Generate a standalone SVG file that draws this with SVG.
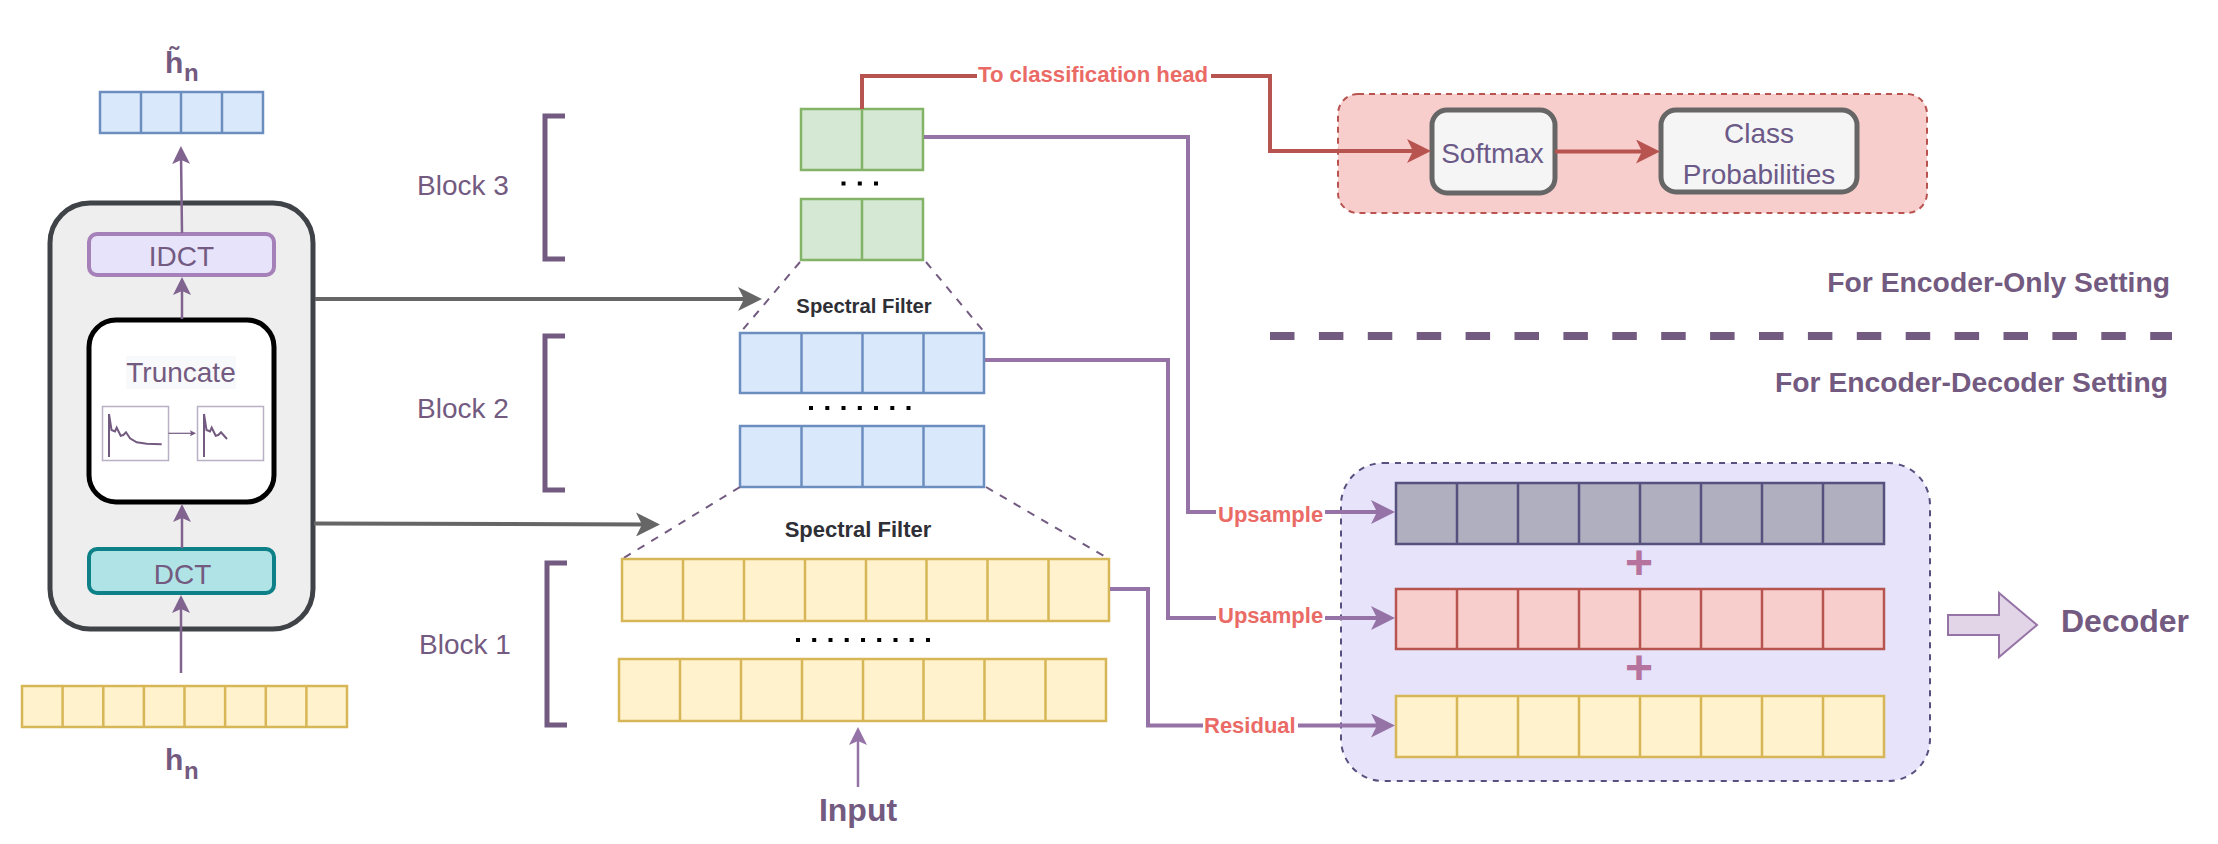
<svg xmlns="http://www.w3.org/2000/svg" width="2218" height="844" viewBox="0 0 2218 844">
<style>
text{font-family:"Liberation Sans",Arial,sans-serif;fill:#735a80}
.m{text-anchor:middle}
.e{text-anchor:end}
.b{font-weight:bold}
.f28{font-size:28px}
.lab{font-size:22px;font-weight:bold;fill:#ea6b66}
.sf{font-weight:bold;fill:#2f2f36;text-anchor:middle}
.plus{font-size:48px;font-weight:bold;fill:#b5739d;text-anchor:middle}
.set{font-size:28.300px;font-weight:bold;text-anchor:end}
.cl{font-size:28px;text-anchor:middle;fill:#6b5a88}
.y{fill:#fff2cc;stroke:#d6b656;stroke-width:2.5}
.bl{fill:#dae8fc;stroke:#6c8ebf;stroke-width:2.5}
.g{fill:#d5e8d4;stroke:#82b366;stroke-width:2.5}
.r{fill:#f8cecc;stroke:#b85450;stroke-width:2.5}
.d{fill:#b0afbf;stroke:#56517e;stroke-width:2.5}
.c{fill:none;stroke-linejoin:miter}
.pur{stroke:#9673a6;stroke-width:4}
.red{stroke:#b85450;stroke-width:4}
.gry{stroke:#666666;stroke-width:4}
.thin{stroke:#80638f;stroke-width:2.5}
.br{fill:none;stroke:#735a80;stroke-width:5}
.dash{fill:none;stroke:#735a80;stroke-width:2;stroke-dasharray:8 8}
.dot{fill:#000}
.plot{fill:#fff;stroke:#b8b0c4;stroke-width:1.5}
.curve{fill:none;stroke:#735a80;stroke-width:2}
.mainbox{stroke-width:4}
</style>
<defs>
<marker id="aPur" markerUnits="userSpaceOnUse" markerWidth="24" markerHeight="24" viewBox="0 0 24 24" refX="14" refY="12" orient="auto"><path d="M0 0L24 12L0 24L6 12Z" fill="#9673a6"/></marker>
<marker id="aRed" markerUnits="userSpaceOnUse" markerWidth="24" markerHeight="24" viewBox="0 0 24 24" refX="14" refY="12" orient="auto"><path d="M0 0L24 12L0 24L6 12Z" fill="#b85450"/></marker>
<marker id="aGry" markerUnits="userSpaceOnUse" markerWidth="24" markerHeight="24" viewBox="0 0 24 24" refX="14" refY="12" orient="auto"><path d="M0 0L24 12L0 24L6 12Z" fill="#666666"/></marker>
<marker id="aThin" markerUnits="userSpaceOnUse" markerWidth="18" markerHeight="18" viewBox="0 0 18 18" refX="10" refY="9" orient="auto"><path d="M0 0L18 9L0 18L4 9Z" fill="#80638f"/></marker>
<marker id="aIn" markerUnits="userSpaceOnUse" markerWidth="18" markerHeight="18" viewBox="0 0 18 18" refX="10" refY="9" orient="auto"><path d="M0 0L18 9L0 18L4 9Z" fill="#9673a6"/></marker>
<marker id="aTiny" markerUnits="userSpaceOnUse" markerWidth="6" markerHeight="6" viewBox="0 0 6 6" refX="4" refY="3" orient="auto"><path d="M0 0L6 3L0 6L1 3Z" fill="#735a80"/></marker>
</defs>

<g id="group-encoder-only"><rect x="1338" y="94" width="589" height="119" rx="20" fill="#f8cecc" stroke="#b85450" stroke-width="2" stroke-dasharray="6 5"/></g>
<g id="group-encoder-decoder"><rect x="1341" y="463" width="589" height="318" rx="42" fill="#e6e3fa" stroke="#56517e" stroke-width="2" stroke-dasharray="6 6"/></g>

<g id="dct-truncate-module">
<rect x="50" y="203" width="263" height="426" rx="40" fill="#eeeeee" stroke="#3f4347" stroke-width="5"/>
</g>
<g id="node-idct"><rect x="89" y="234" width="185" height="41" rx="8" fill="#e6e3fa" stroke="#a680b8" class="mainbox"/><text class="m f28" x="181.500" y="266">IDCT</text></g>
<g id="node-truncate">
<rect x="89" y="320" width="185" height="182" rx="27" fill="#fff" stroke="#000" stroke-width="5"/>
<rect x="126" y="356" width="110" height="33" fill="#f8f9fa"/>
<text class="m f28" x="181" y="382">Truncate</text>
<rect class="plot" x="102.500" y="406.500" width="66" height="54"/>
<rect class="plot" x="197.500" y="406.500" width="66" height="54"/>
<path class="curve" d="M109 414V457M109 414L111.500 430L115 431.500L116.700 427.700L120.700 435.700L123.300 435L126 432.300L130 438.300L136.700 442.300L146.700 443.700L161.700 444.300"/>
<path class="curve" d="M204 414V457M204 414L206.500 430L210 431.500L211.700 427.700L215.700 435.700L218.300 435L221 432.300L227 439"/>
<path fill="none" stroke="#735a80" stroke-width="1.200" d="M168.500 433.300H194" marker-end="url(#aTiny)"/>
</g>
<g id="node-dct"><rect x="89" y="549" width="185" height="44" rx="8" fill="#b0e3e6" stroke="#0e8088" class="mainbox"/><text class="m f28" x="182.500" y="584">DCT</text></g>

<g id="vector-h-tilde">
<rect class="bl" x="100" y="92" width="163" height="41"/>
<path class="bl" d="M141 92V133M181 92V133M222 92V133"/>
<text class="b" x="165" y="73" font-size="30">h&#771;<tspan x="184" y="81" font-size="24">n</tspan></text>
</g>
<g id="vector-h">
<rect class="y" x="22" y="686" width="325" height="41"/>
<path class="y" d="M62.600 686V727M103.300 686V727M143.900 686V727M184.500 686V727M225.100 686V727M265.800 686V727M306.400 686V727"/>
<text class="b" x="165" y="770" font-size="30">h<tspan x="184" y="779" font-size="24">n</tspan></text>
</g>

<g id="block-3-label"><path class="br" d="M565 116H545V259H565"/><text class="f28" x="417" y="195">Block 3</text></g>
<g id="block-2-label"><path class="br" d="M565 336H545V490H565"/><text class="f28" x="417" y="418">Block 2</text></g>
<g id="block-1-label"><path class="br" d="M567 563H547V725H567"/><text class="f28" x="419" y="654">Block 1</text></g>

<g id="block-3-top"><rect class="g" x="801" y="109" width="122" height="61"/><path class="g" d="M862 109V170"/></g>
<g id="block-3-dots" class="dot"><rect x="841.500" y="181.500" width="4" height="4"/><rect x="857.800" y="181.500" width="4" height="4"/><rect x="874" y="181.500" width="4" height="4"/></g>
<g id="block-3-bottom"><rect class="g" x="801" y="199" width="122" height="61"/><path class="g" d="M862 199V260"/></g>
<g id="spectral-filter-upper"><path class="dash" d="M800 262L740 333M926 262L985 333"/><text class="sf" x="864" y="313" font-size="20.300">Spectral Filter</text></g>
<g id="block-2-top"><rect class="bl" x="740" y="333" width="244" height="60"/><path class="bl" d="M801.500 333V393M862.500 333V393M923.500 333V393"/></g>
<g id="block-2-dots" class="dot"><rect x="809" y="406" width="4" height="4"/><rect x="825.300" y="406" width="4" height="4"/><rect x="841.500" y="406" width="4" height="4"/><rect x="857.800" y="406" width="4" height="4"/><rect x="874" y="406" width="4" height="4"/><rect x="890.300" y="406" width="4" height="4"/><rect x="906.500" y="406" width="4" height="4"/></g>
<g id="block-2-bottom"><rect class="bl" x="740" y="426" width="244" height="61"/><path class="bl" d="M801.500 426V487M862.500 426V487M923.500 426V487"/></g>
<g id="spectral-filter-lower"><path class="dash" d="M740 487L622 559M986 487L1109 559"/><text class="sf" x="858" y="537" font-size="22">Spectral Filter</text></g>
<g id="block-1-top"><rect class="y" x="622" y="559" width="487" height="62"/><path class="y" d="M683 559V621M744 559V621M805 559V621M866 559V621M926.500 559V621M987.500 559V621M1048.500 559V621"/></g>
<g id="block-1-dots" class="dot"><rect x="796" y="638" width="4" height="4"/><rect x="812.200" y="638" width="4" height="4"/><rect x="828.500" y="638" width="4" height="4"/><rect x="844.700" y="638" width="4" height="4"/><rect x="861" y="638" width="4" height="4"/><rect x="877.200" y="638" width="4" height="4"/><rect x="893.500" y="638" width="4" height="4"/><rect x="909.700" y="638" width="4" height="4"/><rect x="926" y="638" width="4" height="4"/></g>
<g id="block-1-bottom"><rect class="y" x="619" y="659" width="487" height="62"/><path class="y" d="M680 659V721M741 659V721M802 659V721M863 659V721M923.500 659V721M984.500 659V721M1045.500 659V721"/></g>

<g id="node-softmax"><rect x="1432" y="110" width="123" height="83" rx="15" fill="#f5f5f5" stroke="#666666" stroke-width="5"/><text class="cl" x="1492.500" y="163">Softmax</text></g>
<g id="node-class-probabilities"><rect x="1661" y="110" width="196" height="82" rx="15" fill="#f5f5f5" stroke="#666666" stroke-width="5"/><text class="cl" x="1759" y="143">Class</text><text class="cl" x="1759" y="184">Probabilities</text></g>

<g id="vector-dark"><rect class="d" x="1396" y="483" width="488" height="61"/><path class="d" d="M1457 483V544M1518 483V544M1579 483V544M1640 483V544M1701 483V544M1762 483V544M1823 483V544"/></g>
<g id="vector-red"><rect class="r" x="1396" y="589" width="488" height="60"/><path class="r" d="M1457 589V649M1518 589V649M1579 589V649M1640 589V649M1701 589V649M1762 589V649M1823 589V649"/></g>
<g id="vector-yellow"><rect class="y" x="1396" y="696" width="488" height="61"/><path class="y" d="M1457 696V757M1518 696V757M1579 696V757M1640 696V757M1701 696V757M1762 696V757M1823 696V757"/></g>
<text class="plus" x="1639" y="579">+</text>
<text class="plus" x="1639" y="684">+</text>

<g id="separator"><path d="M1270 336H2172" fill="none" stroke="#735a80" stroke-width="8" stroke-dasharray="24.500 24.400"/></g>
<text class="set" x="2170" y="292">For Encoder-Only Setting</text>
<text class="set" x="2168" y="392">For Encoder-Decoder Setting</text>
<g id="node-decoder"><path d="M1948 615H1999V593L2037 625L1999 657V635H1948Z" fill="#e1d5e7" stroke="#9673a6" stroke-width="2"/><text class="b" x="2061" y="632" font-size="32">Decoder</text></g>
<text class="b m" x="858" y="821" font-size="32">Input</text>

<g id="connectors">
<path class="c thin" d="M182 233L181 154" marker-end="url(#aThin)"/>
<path class="c thin" d="M182 319V285" marker-end="url(#aThin)"/>
<path class="c thin" d="M182 548V512" marker-end="url(#aThin)"/>
<path class="c thin" d="M181 673V603" marker-end="url(#aThin)"/>
<path class="c gry" d="M315 299H752" marker-end="url(#aGry)"/>
<path class="c gry" d="M314 523.500L650 524.500" marker-end="url(#aGry)"/>
<path class="c" stroke="#9673a6" stroke-width="2.500" d="M858 787V735" marker-end="url(#aIn)"/>
<path class="c red" d="M862 109V76H977"/>
<path class="c red" d="M1211 76H1270V151H1421" marker-end="url(#aRed)"/>
<path class="c red" d="M1555 151.500H1650" marker-end="url(#aRed)"/>
<path class="c pur" d="M924 137H1188V512H1216"/>
<path class="c pur" d="M1325 512H1385" marker-end="url(#aPur)"/>
<path class="c pur" d="M985 360H1168V618H1216"/>
<path class="c pur" d="M1325 618H1385" marker-end="url(#aPur)"/>
<path class="c pur" d="M1110 589H1148V725.500H1203"/>
<path class="c pur" d="M1298 725.500H1385" marker-end="url(#aPur)"/>
</g>
<g id="connector-labels">
<text class="lab" x="978" y="82" style="font-size:22.200px">To classification head</text>
<text class="lab" x="1218" y="522">Upsample</text>
<text class="lab" x="1218" y="623">Upsample</text>
<text class="lab" x="1204" y="733">Residual</text>
</g>
</svg>
